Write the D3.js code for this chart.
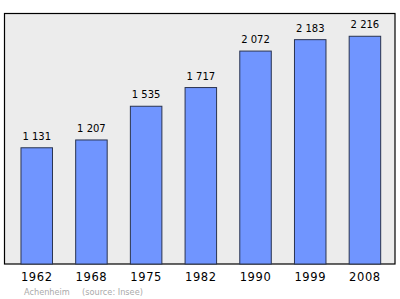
<!DOCTYPE html>
<html><head><meta charset="utf-8">
<script src="https://cdn.jsdelivr.net/npm/d3@7"></script>
<style>body{margin:0;background:#fff}svg{display:block}</style>
</head><body>
<script>
const years = ["1962","1968","1975","1982","1990","1999","2008"];
const population = [1131,1207,1535,1717,2072,2183,2216];
const valueLabels = ["1 131","1 207","1 535","1 717","2 072","2 183","2 216"];
const footerPlace = "Achenheim";
const footerSource = "(source: Insee)";

const W=400,H=299;
const L=4.5,R=395,T=13.5,B=264;
const svg=d3.select("body").append("svg").attr("width",W).attr("height",H);
svg.append("rect").attr("x",L).attr("y",T).attr("width",R-L).attr("height",B-T)
  .attr("fill","#ececec").attr("stroke","#000").attr("stroke-width",1.2);
const x=d3.scaleBand().domain(years).range([L,R]).paddingInner(0.424).paddingOuter(0.2815).align(0.535);
const y=d3.scaleLinear().domain([0,d3.max(population)*1.1]).range([B,T]);
const data=years.map((yr,i)=>({yr,v:population[i],lab:valueLabels[i]}));
svg.selectAll("rect.bar").data(data).join("rect").attr("class","bar")
  .attr("x",d=>x(d.yr)).attr("width",x.bandwidth())
  .attr("y",d=>y(d.v)).attr("height",d=>B-y(d.v))
  .attr("fill","#7095ff").attr("stroke","#2a3450").attr("stroke-width",1);
svg.selectAll("text.val").data(data).join("text").attr("class","val")
  .attr("x",d=>x(d.yr)+x.bandwidth()/2).attr("y",d=>y(d.v)-8)
  .attr("text-anchor","middle").attr("font-family","DejaVu Sans").attr("font-size",10)
  .attr("fill","#000").text(d=>d.lab);
const ax=svg.append("g").attr("transform",`translate(0,${B})`)
  .call(d3.axisBottom(x).tickSize(0).tickPadding(0));
ax.select(".domain").remove();
ax.selectAll("text").attr("y",16.5).attr("dy",null).attr("font-family","DejaVu Sans")
  .attr("font-size",11.5).attr("letter-spacing","0.6px").attr("fill","#000");
svg.append("text").attr("x",24).attr("y",295).attr("font-family","DejaVu Sans").attr("font-size",8.2)
  .attr("fill","#aaa").text(footerPlace);
svg.append("text").attr("x",82).attr("y",295).attr("font-family","DejaVu Sans").attr("font-size",8.2)
  .attr("fill","#aaa").text(footerSource);
</script>
</body></html>
